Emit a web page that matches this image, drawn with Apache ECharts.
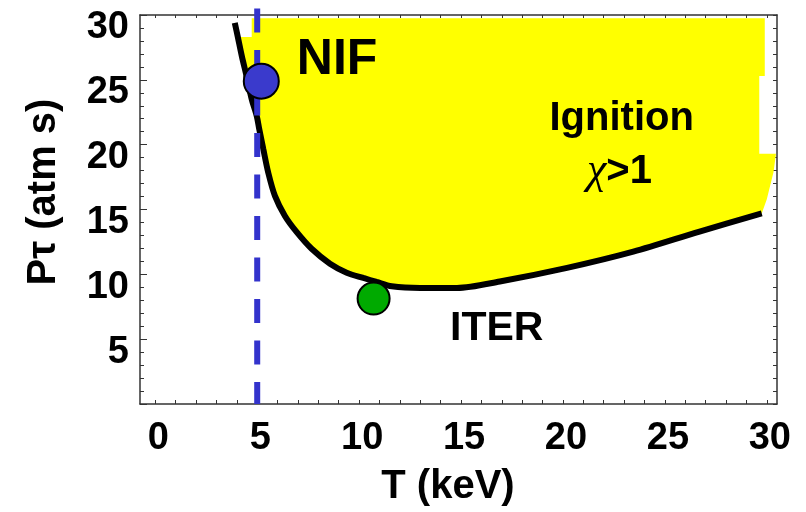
<!DOCTYPE html>
<html>
<head>
<meta charset="utf-8">
<script src="https://cdn.jsdelivr.net/npm/echarts@6/dist/echarts.min.js"></script>
<style>
  html, body { margin: 0; padding: 0; background: #fff; }
  #chart { width: 806px; height: 512px; }
</style>
</head>
<body>
<div id="chart"></div>
<script>
// ignition boundary curve, T (keV) vs P*tau (atm s)
const curveT = [3.9, 4.05, 4.25, 4.48, 4.73, 4.98, 5.1, 5.3, 5.54, 5.87, 6.36, 6.94, 7.67, 8.57, 9.39, 10.21, 10.86, 11.6, 13.0, 14.8, 16.9, 20.2, 23.45, 26.7, 29.75]
const curveP = [29.4, 28.3, 26.8, 25.27, 23.5, 22.2, 21.2, 19.65, 17.85, 16.05, 14.5, 13.25, 11.97, 10.82, 10.13, 9.72, 9.41, 9.08, 8.95, 8.95, 9.45, 10.5, 11.75, 13.3, 14.7]

// outer edge of the yellow ignition region (top and right side)
const fillEdgeT = [4.73, 29.9, 29.9, 29.63, 29.63, 30.45, 30.33, 30.0]
const fillEdgeP = [29.75, 29.75, 25.3, 25.3, 19.3, 19.3, 17.9, 15.8]

// machines
const nifPoint = [5.2, 24.9]
const iterPoint = [10.71, 8.13]
const nifLineT = 5
const nifLineP = [30.5, 0]

// text notes
const noteText = ['NIF', 'ITER', 'Ignition', '{chi|χ}>1']
const noteT = [8.92, 16.75, 22.88, 22.77]
const noteP = [26.55, 5.83, 22.02, 17.92]
const noteSize = [50, 41, 40, 40]

const xTicks = Array.from({ length: 31 }, (_, i) => i)
const yTicks = Array.from({ length: 31 }, (_, i) => i)
const majorTicks = [0, 5, 10, 15, 20, 25, 30]

const font = 'Liberation Sans, Arial, sans-serif'
const frame = { show: true, onZero: false, lineStyle: { color: '#333', width: 1.5 } }

const chart = echarts.init(document.getElementById('chart'))

// polygon of the fill: edge, then curve back from right to left
const fillPts = fillEdgeT.map((t, i) => [t, fillEdgeP[i]])
for (let i = curveT.length - 1; i >= 1; i--) fillPts.push([curveT[i], curveP[i]])
fillPts.push([fillEdgeT[0], curveP[1]])

const option = {
  animation: false,
  backgroundColor: '#fff',
  grid: { left: 140, top: 15, right: 29, bottom: 106 },
  xAxis: [
    {
      type: 'value', min: -0.75, max: 30.5, position: 'bottom',
      axisLine: frame,
      axisTick: { show: true, inside: true, length: 4, customValues: xTicks, lineStyle: { color: '#333' } },
      axisLabel: {
        customValues: majorTicks, fontSize: 38, fontWeight: 'bold', color: '#000',
        fontFamily: font, margin: 16, padding: [0, 0, 0, 6]
      },
      splitLine: { show: false },
      name: 'T (keV)', nameLocation: 'middle', nameGap: 63,
      nameTextStyle: { fontSize: 40, fontWeight: 'bold', color: '#000', fontFamily: font, padding: [0, 21, 0, 0] }
    },
    {
      type: 'value', min: -0.75, max: 30.5, position: 'top',
      axisLine: frame,
      axisTick: { show: true, inside: true, length: 3, customValues: xTicks, lineStyle: { color: '#333' } },
      axisLabel: { show: false },
      splitLine: { show: false }
    }
  ],
  yAxis: [
    {
      type: 'value', min: 0, max: 30, position: 'left',
      axisLine: frame,
      axisTick: { show: true, inside: true, length: 7, customValues: majorTicks, lineStyle: { color: '#333' } },
      axisLabel: {
        customValues: [5, 10, 15, 20, 25, 30], fontSize: 38, fontWeight: 'bold', color: '#000',
        fontFamily: font, margin: 11, verticalAlign: 'top', lineHeight: 26
      },
      splitLine: { show: false },
      name: 'Pτ (atm s)', nameLocation: 'middle', nameGap: 76, nameRotate: 90,
      nameTextStyle: { fontSize: 40, fontWeight: 'bold', color: '#000', fontFamily: font, padding: [0, 0, 0, 35] }
    },
    {
      type: 'value', min: 0, max: 30, position: 'left',
      axisLine: { show: false, onZero: false },
      axisTick: { show: true, inside: true, length: 4, customValues: yTicks, lineStyle: { color: '#333' } },
      axisLabel: { show: false },
      splitLine: { show: false }
    },
    {
      type: 'value', min: 0, max: 30, position: 'right',
      axisLine: frame,
      axisTick: { show: true, inside: true, length: 4, customValues: yTicks, lineStyle: { color: '#333' } },
      axisLabel: { show: false },
      splitLine: { show: false }
    }
  ],
  series: [
    {
      type: 'custom',
      z: 1,
      clip: false,
      data: fillPts,
      renderItem: function (params, api) {
        if (params.dataIndex !== 0) return
        return {
          type: 'polygon',
          shape: { points: fillPts.map(p => api.coord(p)) },
          style: { fill: '#ffff00' }
        }
      }
    },
    {
      type: 'line',
      z: 3,
      data: curveT.map((t, i) => [t, curveP[i]]),
      showSymbol: false,
      smooth: 0.3,
      lineStyle: { color: '#000', width: 6 }
    },
    {
      type: 'line',
      z: 4,
      clip: false,
      data: nifLineP.map(p => [nifLineT, p]),
      showSymbol: false,
      lineStyle: { color: '#3333cc', width: 6, type: [24, 17.5], cap: 'butt' }
    },
    {
      type: 'scatter',
      z: 5,
      data: [nifPoint],
      symbolSize: 35,
      itemStyle: { color: '#3a3acc', borderColor: '#000', borderWidth: 2, opacity: 1 }
    },
    {
      type: 'scatter',
      z: 5,
      data: [iterPoint],
      symbolSize: 32,
      itemStyle: { color: '#00aa00', borderColor: '#000', borderWidth: 2, opacity: 1 }
    },
    {
      type: 'scatter',
      z: 6,
      symbolSize: 0,
      itemStyle: { opacity: 1 },
      data: noteText.map((s, i) => ({
        name: s,
        value: [noteT[i], noteP[i]],
        label: { fontSize: noteSize[i] }
      })),
      label: {
        show: true, position: 'inside', formatter: '{b}', color: '#000',
        fontWeight: 'bold', fontFamily: font,
        rich: {
          chi: { fontFamily: 'Liberation Serif, serif', fontStyle: 'italic', fontWeight: 'normal', fontSize: 44, color: '#000' }
        }
      }
    }
  ]
}

chart.setOption(option)
</script>
</body>
</html>
